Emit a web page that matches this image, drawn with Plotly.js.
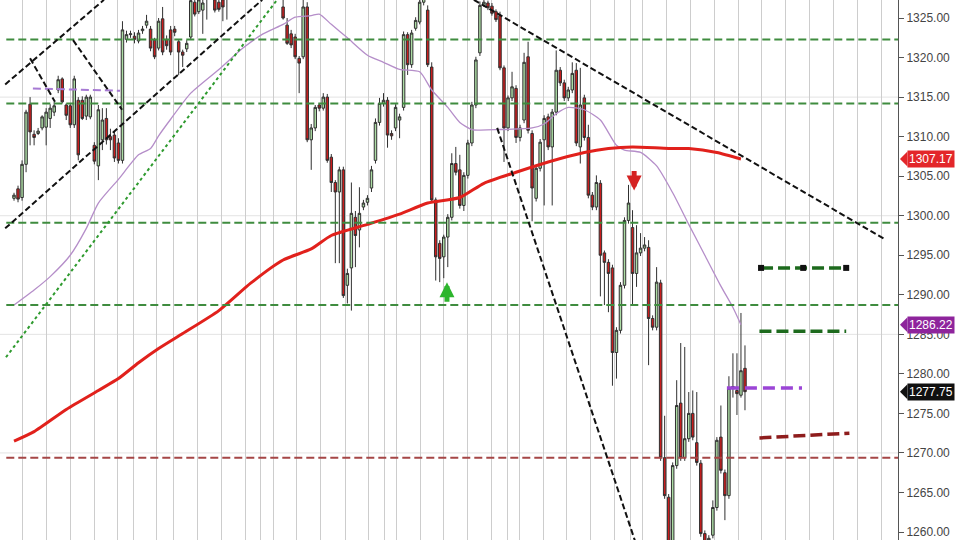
<!DOCTYPE html>
<html><head><meta charset="utf-8">
<script src="https://cdn.plot.ly/plotly-3.0.1.min.js"></script>
<style>html,body{margin:0;padding:0;background:#fff}#chart{width:960px;height:540px}</style>
</head><body><div id="chart"></div>
<script>
// ---- candle data (oldest -> newest) ----
const openP = [1302.2,1303.4,1302.3,1306.5,1314.1,1310.3,1310.4,1311.1,1311.2,1312.3,
1313.1,1315.9,1317.3,1314.0,1313.9,1311.5,1314.6,1314.6,1312.6,1312.5,
1308.9,1306.3,1309.6,1312.3,1310.0,1310.2,1309.2,1307.0,1322.3,1322.9,
1322.7,1322.1,1323.4,1324.1,1323.6,1322.2,1321.2,1324.9,1322.3,1323.5,
1323.6,1322.0,1320.7,1321.1,1322.6,1327.0,1325.8,1326.0,1328.0,1329.0,
1327.3,1327.0,1327.3,1327.8,1328.4,1329.5,1330.6,1330.0,1331.3,1332.0,
1331.2,1332.4,1331.6,1330.5,1331.0,1329.6,1328.8,1326.4,1324.1,1323.0,
1322.6,1319.9,1320.1,1326.4,1309.6,1311.1,1314.0,1313.6,1315.0,1307.4,
1304.2,1303.0,1305.8,1291.2,1293.4,1299.8,1298.2,1301.1,1301.7,1303.5,
1307.0,1311.8,1314.2,1314.6,1310.4,1311.1,1312.1,1313.7,1322.9,1319.1,
1323.7,1324.5,1327.0,1326.0,1318.8,1302.0,1296.5,1294.8,1297.3,1299.8,
1306.6,1305.8,1301.3,1305.1,1309.2,1314.0,1320.6,1326.6,1326.9,1326.5,
1325.8,1325.3,1318.7,1311.1,1314.9,1316.1,1309.9,1312.1,1320.1,1310.4,
1302.2,1306.0,1309.6,1312.5,1308.7,1313.1,1318.4,1316.8,1314.9,1315.9,
1318.4,1308.7,1314.9,1309.9,1302.6,1301.1,1304.1,1295.3,1294.1,1293.4,
1282.7,1285.5,1291.2,1299.4,1298.5,1292.7,1295.3,1295.9,1296.0,1287.0,
1285.9,1291.5,1269.4,1264.4,1257.7,1268.4,1276.3,1269.4,1271.8,1275.0,
1271.3,1268.7,1259.8,1257.9,1259.6,1263.1,1272.0,1267.5,1264.6,1278.2,
1277.9,1277.3,1280.7];
const highP = [1302.9,1303.8,1307.0,1313.4,1315.0,1310.8,1311.1,1312.7,1313.6,1314.1,
1314.4,1317.7,1317.5,1314.2,1314.2,1317.7,1315.0,1315.1,1315.3,1315.3,
1309.3,1314.0,1313.6,1313.6,1311.0,1310.6,1309.8,1324.6,1323.4,1323.4,
1323.2,1323.5,1324.0,1325.4,1324.0,1322.5,1325.0,1326.4,1322.8,1324.0,
1324.0,1322.3,1321.0,1322.2,1328.0,1327.8,1328.2,1327.8,1329.3,1329.8,
1328.3,1327.6,1328.0,1328.9,1330.0,1331.2,1331.4,1331.9,1332.6,1332.5,
1333.0,1332.9,1332.0,1331.6,1331.4,1330.0,1329.2,1327.5,1325.0,1323.5,
1323.0,1320.2,1327.3,1327.0,1311.6,1314.0,1314.2,1315.5,1315.4,1307.8,
1304.5,1306.2,1306.2,1293.3,1304.2,1300.6,1303.6,1302.0,1302.6,1306.3,
1312.3,1314.9,1315.5,1315.0,1310.8,1314.1,1312.9,1323.3,1323.2,1323.5,
1325.1,1327.4,1328.3,1326.6,1319.4,1302.3,1296.9,1297.6,1300.2,1307.9,
1308.7,1307.7,1305.5,1309.6,1314.4,1320.1,1327.1,1327.3,1327.2,1326.9,
1326.1,1325.8,1319.0,1315.2,1318.2,1316.5,1311.5,1320.6,1322.0,1310.8,
1306.4,1309.7,1312.7,1312.9,1313.5,1320.9,1318.8,1317.2,1316.3,1319.4,
1319.3,1318.7,1315.3,1311.5,1303.0,1305.1,1304.5,1295.6,1294.5,1293.8,
1285.9,1291.6,1299.8,1303.9,1300.7,1298.8,1297.8,1297.3,1296.9,1287.4,
1293.5,1291.9,1274.7,1264.8,1268.8,1279.2,1283.9,1283.4,1277.7,1277.9,
1277.7,1269.1,1260.2,1259.6,1264.0,1272.0,1276.0,1267.9,1279.7,1282.6,
1282.6,1287.7,1283.6];
const lowP = [1301.9,1301.7,1301.9,1305.5,1308.9,1308.9,1310.2,1310.8,1308.9,1311.1,
1312.6,1315.5,1314.2,1312.1,1311.1,1311.1,1307.0,1312.1,1312.1,1312.2,
1306.5,1304.5,1308.3,1309.0,1308.3,1306.8,1306.6,1306.6,1321.9,1322.5,
1321.8,1321.8,1323.0,1323.7,1320.8,1319.8,1320.9,1320.3,1321.0,1320.3,
1322.7,1317.8,1318.8,1320.7,1322.3,1325.2,1325.5,1323.0,1324.8,1327.6,
1325.7,1325.8,1324.6,1324.8,1328.0,1329.1,1329.6,1329.7,1330.9,1330.8,
1330.9,1331.0,1330.1,1329.9,1329.1,1328.3,1327.6,1324.8,1321.6,1321.2,
1319.8,1315.5,1319.8,1309.3,1305.8,1310.7,1313.2,1313.3,1306.7,1303.0,
1294.0,1294.0,1289.6,1288.9,1288.0,1293.5,1296.0,1300.7,1301.3,1303.0,
1306.6,1311.4,1313.8,1308.6,1309.6,1310.7,1309.8,1313.3,1317.8,1318.7,
1323.4,1324.2,1326.6,1318.8,1301.7,1291.8,1291.6,1292.1,1293.5,1299.4,
1305.1,1300.9,1300.6,1304.7,1308.8,1313.6,1320.2,1326.4,1326.0,1325.3,
1324.5,1318.4,1306.8,1310.7,1314.5,1309.2,1309.4,1311.7,1310.4,1299.3,
1301.8,1305.6,1301.3,1308.3,1301.3,1312.7,1316.4,1314.5,1314.5,1315.5,
1308.8,1306.6,1309.5,1302.2,1300.7,1300.7,1289.8,1288.7,1287.8,1278.5,
1279.4,1285.1,1290.8,1299.0,1288.7,1291.0,1294.9,1295.5,1281.1,1285.5,
1285.5,1269.0,1264.2,1256.5,1256.4,1268.0,1269.0,1269.0,1271.4,1271.6,
1268.4,1259.4,1256.5,1257.0,1259.2,1262.7,1267.4,1261.5,1264.2,1277.0,
1274.8,1277.0,1275.4];
const closeP = [1302.6,1302.1,1306.5,1313.1,1310.6,1309.9,1310.7,1312.5,1313.1,1313.6,
1313.9,1317.2,1314.4,1312.7,1311.5,1317.3,1307.7,1312.3,1315.0,1315.0,
1306.9,1313.4,1312.1,1309.6,1309.6,1307.3,1307.0,1323.5,1322.9,1323.0,
1322.3,1323.1,1323.6,1324.6,1321.2,1320.1,1324.6,1320.7,1321.5,1320.7,
1323.2,1320.7,1320.3,1321.8,1327.2,1325.5,1327.3,1326.9,1328.8,1328.3,
1326.0,1326.1,1326.4,1328.4,1329.5,1330.6,1330.0,1331.3,1332.0,1331.2,
1332.4,1331.6,1330.5,1331.0,1329.6,1328.8,1328.1,1325.0,1321.8,1321.6,
1320.1,1319.3,1326.4,1309.6,1311.1,1313.7,1313.6,1315.0,1307.0,1304.2,
1303.0,1305.8,1289.9,1292.7,1300.3,1297.5,1300.3,1301.6,1302.2,1305.8,
1311.8,1314.2,1314.6,1310.2,1310.1,1313.7,1312.5,1322.9,1319.1,1323.1,
1324.7,1327.0,1327.8,1319.1,1302.0,1294.8,1294.6,1297.3,1299.8,1306.6,
1305.5,1301.3,1305.1,1309.2,1314.0,1319.7,1326.6,1327.0,1326.3,1325.6,
1324.8,1318.7,1311.1,1314.9,1316.3,1309.9,1311.1,1319.4,1310.8,1303.5,
1306.0,1309.3,1312.3,1308.7,1313.1,1318.4,1316.8,1314.9,1315.9,1318.0,
1309.2,1314.0,1309.9,1302.6,1301.1,1304.2,1295.0,1294.1,1292.7,1282.7,
1285.5,1291.2,1299.4,1301.6,1292.7,1295.3,1295.9,1296.3,1287.0,1285.9,
1291.6,1269.4,1264.6,1257.7,1268.4,1276.0,1269.4,1271.8,1275.0,1272.0,
1268.8,1259.8,1257.9,1259.2,1263.1,1271.6,1267.8,1264.6,1278.2,1278.4,
1277.5,1280.4,1277.75];

// ---- moving averages (sampled along the bar index) ----
const slowMaIdx = [0,5,13,21,26,31,36,42,51,59,67,74,79,88,96,103,111,117,125,133,142,148,154,163,168,175,181];
const slowMaVal = [1271.5,1272.7,1275.5,1277.9,1279.4,1281.4,1283.2,1285.1,1288.0,1291.5,1294.4,1295.8,1297.5,1298.9,1300.2,1301.6,1302.3,1304.1,1305.5,1306.8,1308.0,1308.5,1308.7,1308.5,1308.5,1308.0,1307.17];
const fastMaIdx = [0,5,9,14,18,21,26,31,34,36,39,44,51,57,62,67,70,74,76,79,83,88,92,96,101,104,108,111,114,121,129,132,135,138,142,146,150,152,156,160,164,168,172,176,179,181];
const fastMaVal = [1288.7,1290.6,1292.3,1295.0,1298.4,1301.6,1304.6,1307.7,1308.5,1310.1,1312.2,1315.5,1318.5,1321.2,1323.0,1324.2,1325.1,1325.3,1325.5,1324.2,1322.5,1320.3,1319.4,1318.5,1318.2,1315.9,1313.7,1311.8,1310.9,1310.9,1311.1,1311.6,1312.9,1313.7,1313.4,1312.1,1308.9,1308.3,1308.0,1306.3,1302.9,1298.9,1295.0,1291.1,1288.4,1286.22];

// ---- horizontal levels ----
const greenLevels = [1322.3, 1314.2, 1299.1, 1288.7];
const redLevels = [1269.4];
const gridLevels = [1270, 1285, 1300, 1315];
const yTicks = [1260,1265,1270,1275,1280,1285,1290,1295,1300,1305,1310,1315,1320,1325];

// ---- right-hand target segments [x0, x1, y0, y1] ----
const targetSquares = {x:[186.0,196.5,207.2], y:[1293.4,1293.4,1293.4]};
const targetGreen = [185.6, 207.2, 1285.4, 1285.4];
const targetPurple = [177.5, 196.2, 1278.2, 1278.2];
const targetRed = [185.6, 208.0, 1271.9, 1272.5];
const pivotPurple = [4.7, 26.4, 1316.1, 1315.8];

// ---- trend lines [x0, y0, x1, y1] ----
const trendBlack = [
  [-2.2,1316.6,22.4,1327.3],
  [-2.2,1298.4,61.8,1327.3],
  [4.0,1319.9,10.2,1314.4],
  [14.7,1322.2,26.9,1313.4],
  [114.5,1327.3,216.9,1297.0],
  [120.3,1311.1,154.6,1258.9]
];
const trendGreen = [[-2.0,1282.1,65.5,1327.3]];

// ---- signal arrows [bar index, price at arrow head] ----
const buySignal = [107.8, 1291.6];
const sellSignal = [154.4, 1303.2];

// ---- price tags ----
const tagPrices = [1307.17, 1286.22, 1277.75];
const tagColors = ['#e3262a', '#8e249c', '#101010'];

// ---- vertical time grid (bar-index units) ----
const timeGrid = [2.17,8.14,13.94,20.0,25.72,29.71,35.53,39.67,45.74,51.54,57.52,61.43,64.57,70.39,76.37,82.42,88.22,92.13,95.29,101.1,106.9,112.9,118.95,122.8,125.8,131.8,137.6,143.6,149.6,153.6,156.5,162.5,168.5,174.4,180.4,186.2,192.2,198.0,204.0,210.0,216.1];

const idx = openP.map((_, i) => i);

const traces = [];
traces.push({
  type:'candlestick', x: idx, open: openP, high: highP, low: lowP, close: closeP,
  increasing:{line:{color:'#303030', width:1}, fillcolor:'#acdca4'},
  decreasing:{line:{color:'#303030', width:1}, fillcolor:'#c91d1d'},
  whiskerwidth:0, hoverinfo:'skip', showlegend:false
});
traces.push({type:'scatter', mode:'lines', x: fastMaIdx, y: fastMaVal,
  line:{color:'#b58ec9', width:1.3, shape:'spline', smoothing:0.6}, hoverinfo:'skip', showlegend:false});
traces.push({type:'scatter', mode:'lines', x: slowMaIdx, y: slowMaVal,
  line:{color:'#e1211c', width:3, shape:'spline', smoothing:0.6}, hoverinfo:'skip', showlegend:false});

function seg(a, color, width, dash) {
  traces.push({type:'scatter', mode:'lines', x:[a[0],a[1]], y:[a[2],a[3]],
    line:{color:color, width:width, dash:dash}, hoverinfo:'skip', showlegend:false});
}
seg(targetGreen, '#1d6a1d', 3.5, '12px,5px');
seg([targetSquares.x[0], targetSquares.x[2], targetSquares.y[0], targetSquares.y[2]], '#1d6a1d', 3.5, '12px,5px');
seg(targetPurple, '#9b45d6', 3.5, '12px,6px');
seg(targetRed, '#8e1c1c', 3.5, '12px,5px');
seg(pivotPurple, '#a77ad4', 2, '8px,4px');
traces.push({type:'scatter', mode:'markers', x: targetSquares.x, y: targetSquares.y,
  marker:{symbol:'square', size:6, color:'#111'}, hoverinfo:'skip', showlegend:false});

const shapes = [];
gridLevels.forEach(v => shapes.push({type:'line', xref:'paper', yref:'y', x0:0, x1:1, y0:v, y1:v,
  line:{color:'#e3e3e3', width:1}, layer:'below'}));
greenLevels.forEach(v => shapes.push({type:'line', xref:'paper', yref:'y', x0:0.007, x1:1, y0:v, y1:v,
  line:{color:'#3f8c3f', width:2, dash:'8px,4px'}, layer:'above'}));
redLevels.forEach(v => shapes.push({type:'line', xref:'paper', yref:'y', x0:0.007, x1:1, y0:v, y1:v,
  line:{color:'#a54646', width:2, dash:'8px,4px'}, layer:'above'}));
trendBlack.forEach(t => shapes.push({type:'line', xref:'x', yref:'y', x0:t[0], y0:t[1], x1:t[2], y1:t[3],
  line:{color:'#111', width:2, dash:'6px,3px'}}));
trendGreen.forEach(t => shapes.push({type:'line', xref:'x', yref:'y', x0:t[0], y0:t[1], x1:t[2], y1:t[3],
  line:{color:'#2e9a2e', width:2, dash:'dot'}}));
// tag pointers
tagPrices.forEach((p, k) => shapes.push({type:'path', xref:'paper', yref:'y',
  path:`M 1.0022,${p} L 1.0105,${p+0.95} L 1.0105,${p-0.95} Z`,
  fillcolor:tagColors[k], line:{width:0}}));

const annotations = tagPrices.map((p, k) => ({xref:'paper', yref:'y', x:1.0095, y:p,
  xanchor:'left', yanchor:'middle', text:p.toFixed(2), showarrow:false,
  font:{family:'Liberation Sans, Arial, sans-serif', size:12, color:'#fff'},
  bgcolor:tagColors[k], borderpad:1}));
annotations.push({xref:'x', yref:'y', x:buySignal[0], y:buySignal[1], text:'', showarrow:true,
  ax:0, ay:21, arrowhead:2, arrowsize:0.6, arrowwidth:5, arrowcolor:'#2db52d'});
annotations.push({xref:'x', yref:'y', x:sellSignal[0], y:sellSignal[1], text:'', showarrow:true,
  ax:0, ay:-21, arrowhead:2, arrowsize:0.6, arrowwidth:5, arrowcolor:'#d42222'});

const layout = {
  width:960, height:540,
  margin:{l:0, r:62, t:0, b:0},
  paper_bgcolor:'#fff', plot_bgcolor:'#fff',
  showlegend:false,
  boxgap:0.12,
  xaxis:{range:[-3.49, 220.1], showticklabels:false, ticks:'', tickmode:'array', tickvals: timeGrid,
    showgrid:true, gridcolor:'#cdcdcd', gridwidth:1, zeroline:false, showline:false,
    rangeslider:{visible:false}, fixedrange:true},
  yaxis:{side:'right', range:[1258.99, 1327.28], tickmode:'array', tickvals:yTicks,
    ticktext: yTicks.map(v => v.toFixed(2)), ticks:'outside', ticklen:5, tickcolor:'#555',
    showline:true, linecolor:'#555', linewidth:1, showgrid:false, zeroline:false,
    tickfont:{family:'Liberation Sans, Arial, sans-serif', size:12, color:'#444'}, fixedrange:true},
  shapes: shapes,
  annotations: annotations,
  hovermode:false
};
Plotly.newPlot('chart', traces, layout, {displayModeBar:false, staticPlot:true});
</script>
</body></html>
